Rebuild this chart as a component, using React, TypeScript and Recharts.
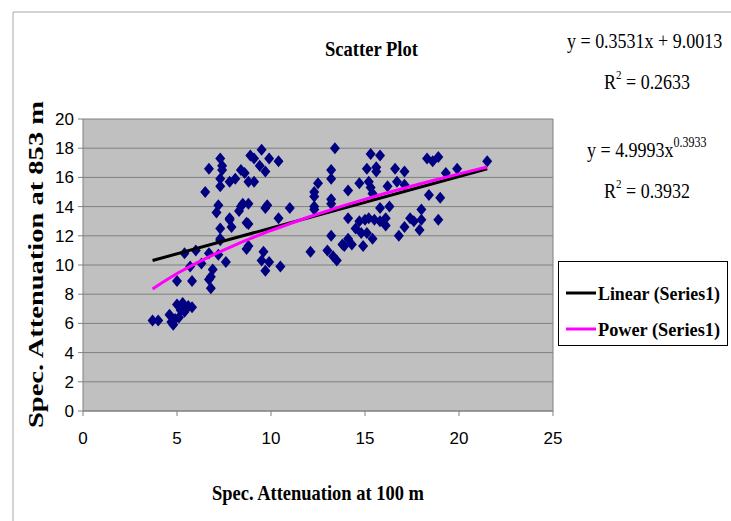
import React from 'react';
import { ScatterChart, Scatter, XAxis, YAxis, CartesianGrid, ReferenceLine } from 'recharts';

// specific attenuation at 100 m (x) and at 853 m (y), one entry per sample
const atten100 = [
  3.7, 4.0, 4.6, 4.7, 4.8, 4.9, 5.0, 5.1, 5.2, 5.3, 5.4, 5.5, 5.6, 5.8,
  5.0, 5.8, 5.7, 5.4, 6.0, 6.3, 6.7, 6.8, 6.7, 6.8, 6.9, 7.2, 7.3, 7.6, 7.3, 7.8, 7.9, 7.2, 7.1,
  6.5, 6.7, 7.3, 7.4, 7.4, 7.3, 7.3, 7.8, 8.1, 8.4, 8.6, 8.8, 9.1, 8.9, 9.1, 9.5, 9.4, 9.7, 9.9, 10.4,
  8.3, 8.4, 8.5, 8.8, 9.8, 9.7, 7.8, 8.8, 8.7, 10.4, 11.0, 7.3, 8.8, 8.7, 9.6, 9.5, 9.7, 9.9, 10.5,
  13.4, 15.3, 15.8, 13.2, 13.2, 15.1, 15.6, 15.6, 16.6, 17.1, 18.3, 18.6, 18.9, 19.3, 19.9, 21.5,
  12.5, 12.3, 12.3, 13.2, 13.2, 12.3, 12.3,
  14.1, 14.7, 15.2, 15.3, 15.4, 16.2, 16.7, 17.1, 18.4, 19.0,
  15.8, 16.3, 14.1, 14.7, 15.0, 15.2, 15.5, 15.8, 16.1, 16.1, 14.5, 14.8, 15.1, 15.4, 14.9,
  14.1, 14.3, 13.9, 13.8, 13.2, 13.0, 13.3, 13.5, 12.1, 16.8, 17.1, 17.4, 17.6, 18.0, 18.0, 17.9, 18.9,
];
const atten853 = [
  6.2, 6.2, 6.6, 6.1, 5.9, 6.3, 7.3, 6.4, 6.9, 7.4, 6.8, 7.0, 7.2, 7.1,
  8.9, 8.9, 9.9, 10.8, 11.0, 10.1, 10.8, 9.2, 9.0, 8.4, 9.7, 10.7, 11.7, 10.2, 12.5, 13.1, 12.6, 14.1, 13.6,
  15.0, 16.6, 17.3, 16.8, 16.5, 15.9, 15.4, 15.7, 15.9, 16.5, 16.3, 15.7, 15.7, 17.5, 17.3, 17.9, 16.8, 16.4, 17.3, 17.1,
  13.7, 14.0, 14.2, 14.2, 14.1, 13.9, 13.2, 12.8, 12.9, 13.2, 13.9, 11.8, 11.3, 11.1, 10.9, 10.3, 9.6, 10.2, 9.9,
  18.0, 17.6, 17.5, 16.5, 15.9, 16.6, 16.7, 16.4, 16.6, 16.4, 17.3, 17.1, 17.4, 16.3, 16.6, 17.1,
  15.6, 15.0, 14.7, 14.5, 14.2, 14.0, 13.8,
  15.1, 15.6, 15.7, 15.3, 14.9, 15.4, 15.7, 15.5, 14.8, 14.6,
  13.9, 14.0, 13.2, 13.0, 13.1, 13.2, 13.1, 13.0, 13.2, 12.7, 12.5, 12.2, 12.2, 11.8, 11.3,
  11.8, 11.4, 11.3, 11.4, 12.0, 11.0, 10.6, 10.3, 10.9, 12.0, 12.6, 13.2, 13.0, 13.8, 13.1, 12.4, 13.1,
];

const xTicks = [0, 5, 10, 15, 20, 25];
const yTicks = [0, 2, 4, 6, 8, 10, 12, 14, 16, 18, 20];

// fitted trendlines (coefficients as printed on the chart)
const linSlope = 0.3531;
const linIntercept = 9.0013;
const powCoef = 4.9993;
const powExp = 0.3933;
const trendXs = [3.7, 4.2, 5, 6, 7, 8.5, 10, 12, 14, 16, 18, 20, 21.5];

const samples = atten100.map((x, i) => ({ x, y: atten853[i] }));
const linearFit = [trendXs[0], trendXs[trendXs.length - 1]].map((x) => ({ x, y: linSlope * x + linIntercept }));
const powerFit = trendXs.map((x) => ({ x, y: powCoef * Math.pow(x, powExp) }));

const serif = "'Liberation Serif', 'Times New Roman', serif";
const tickFont = "'Liberation Sans Narrow', 'Arial Narrow', 'Liberation Sans', sans-serif";

const Diamond = (props: any) => {
  const { cx, cy } = props;
  return <path d={`M${cx},${cy - 6}L${cx + 5},${cy}L${cx},${cy + 6}L${cx - 5},${cy}Z`} fill="#000080" />;
};

const NoDot = () => <g />;

const LegendBox = () => (
  <div style={{ position: 'absolute', left: 558, top: 261, width: 168, height: 83, border: '1px solid #000', background: '#fff' }}>
    <svg width={168} height={83}>
      <line x1={7} y1={31} x2={37} y2={31} stroke="#000" strokeWidth={3} />
      <text x={39} y={38} fontFamily={serif} fontWeight="bold" fontSize={19} textLength={122} lengthAdjust="spacingAndGlyphs">
        Linear (Series1)
      </text>
      <line x1={7} y1={67} x2={37} y2={67} stroke="#ff00ff" strokeWidth={3} />
      <text x={39} y={74} fontFamily={serif} fontWeight="bold" fontSize={19} textLength={122} lengthAdjust="spacingAndGlyphs">
        Power (Series1)
      </text>
    </svg>
  </div>
);

// equation labels are a little taller than they are wide
const eqStretch = (x: number, y: number) => `translate(${x},${y}) scale(1,1.22)`;

export default function App() {
  return (
    <div style={{ position: 'absolute', left: 0, top: 0, width: 731, height: 521, background: '#fff', overflow: 'hidden' }}>
      <ScatterChart width={731} height={521} margin={{ top: 119, right: 178, bottom: 0, left: 0 }}>
        <CartesianGrid vertical={false} stroke="#808080" fill="#c0c0c0" fillOpacity={1} />
        <XAxis
          type="number"
          dataKey="x"
          domain={[0, 25]}
          ticks={xTicks}
          height={110}
          stroke="#808080"
          tickSize={5}
          tickMargin={16}
          tick={{ fill: '#000', fontFamily: tickFont, fontSize: 17 }}
        />
        <YAxis
          type="number"
          dataKey="y"
          domain={[0, 20]}
          ticks={yTicks}
          width={83}
          stroke="#808080"
          tickSize={5}
          tickMargin={4}
          tick={{ fill: '#000', fontFamily: tickFont, fontSize: 17 }}
        />
        <ReferenceLine x={25} stroke="#808080" />
        <Scatter data={samples} shape={Diamond} isAnimationActive={false} legendType="none" />
        <Scatter data={linearFit} shape={NoDot} line={{ stroke: '#000', strokeWidth: 3 }} isAnimationActive={false} />
        <Scatter data={powerFit} shape={NoDot} line={{ stroke: '#ff00ff', strokeWidth: 3 }} isAnimationActive={false} />
      </ScatterChart>
      <LegendBox />
      <svg width={731} height={521} style={{ position: 'absolute', left: 0, top: 0, pointerEvents: 'none' }}>
        <line x1={13} y1={12} x2={731} y2={12} stroke="#a8a8a8" />
        <line x1={13} y1={12} x2={13} y2={521} stroke="#a8a8a8" />
        <text x={325} y={56} fontFamily={serif} fontWeight="bold" fontSize={22} textLength={93} lengthAdjust="spacingAndGlyphs">
          Scatter Plot
        </text>
        <text transform={eqStretch(567, 48)} fontFamily={serif} fontSize={18}>
          y = 0.3531x + 9.0013
        </text>
        <text transform={eqStretch(604, 89)} fontFamily={serif} fontSize={18}>
          <tspan>R</tspan>
          <tspan dy={-8} fontSize={11}>2</tspan>
          <tspan dy={8}> = 0.2633</tspan>
        </text>
        <text transform={eqStretch(587, 157)} fontFamily={serif} fontSize={18}>
          <tspan>y = 4.9993x</tspan>
          <tspan dy={-8} fontSize={12}>0.3933</tspan>
        </text>
        <text transform={eqStretch(604, 198)} fontFamily={serif} fontSize={18}>
          <tspan>R</tspan>
          <tspan dy={-8} fontSize={11}>2</tspan>
          <tspan dy={8}> = 0.3932</tspan>
        </text>
        <text
          x={212}
          y={500}
          fontFamily={serif}
          fontWeight="bold"
          fontSize={22}
          textLength={212}
          lengthAdjust="spacingAndGlyphs"
        >
          Spec. Attenuation at 100 m
        </text>
        <text
          transform="translate(43,428) rotate(-90)"
          fontFamily={serif}
          fontWeight="bold"
          fontSize={22}
          textLength={327}
          lengthAdjust="spacingAndGlyphs"
        >
          Spec. Attenuation at 853 m
        </text>
      </svg>
    </div>
  );
}
